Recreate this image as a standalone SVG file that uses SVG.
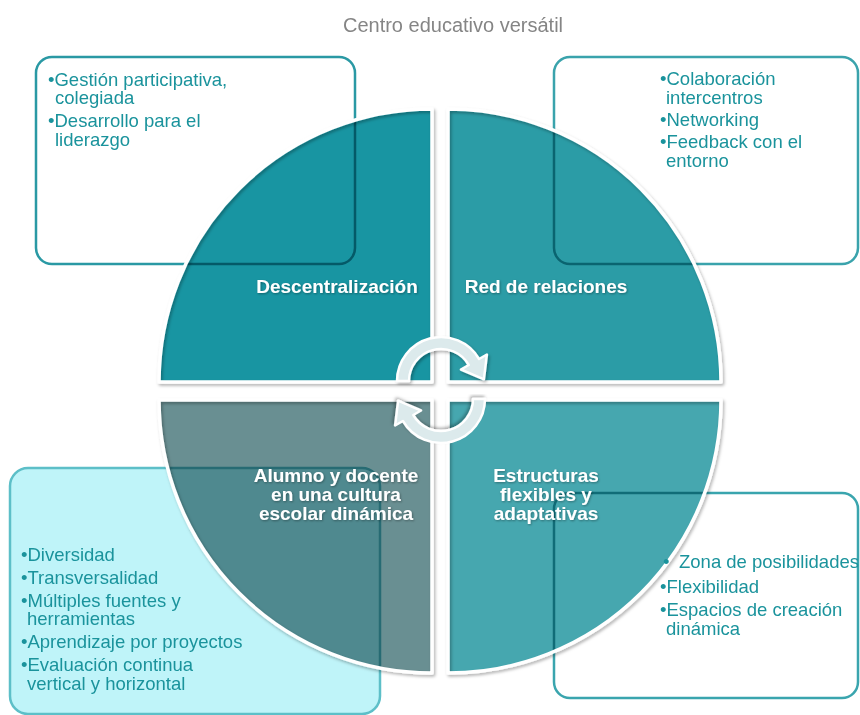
<svg xmlns="http://www.w3.org/2000/svg" width="860" height="715" viewBox="0 0 860 715">
<style>
.bg{fill:#ffffff}
.title{font-family:"Liberation Sans",Arial,sans-serif;font-size:20px;fill:#858585}
.box{stroke-width:2.5}
.btxt{font-family:"Liberation Sans",Arial,sans-serif;font-size:18.5px;fill:#1A939C}
.qfill{mix-blend-mode:multiply}
.qedge{fill:none;stroke:#ffffff;stroke-width:3.5;stroke-linejoin:round}
.qlbl{font-family:"Liberation Sans",Arial,sans-serif;font-size:19px;font-weight:bold;fill:#ffffff;text-anchor:middle}
.arrow{fill:#DCEAEC;stroke:#ffffff;stroke-width:2.5;stroke-linejoin:round}
</style>
<defs>
<filter id="sh" x="-10%" y="-10%" width="120%" height="120%">
<feDropShadow dx="1.5" dy="2" stdDeviation="1.5" flood-color="#000000" flood-opacity="0.3"/>
</filter>
<filter id="tsh" x="-10%" y="-20%" width="120%" height="140%">
<feDropShadow dx="0.8" dy="1" stdDeviation="0.8" flood-color="#000000" flood-opacity="0.35"/>
</filter>
<path id="arrowShape" d="M397,381 A44,44 0 0 1 479.1,359 L486.9,354.5 L483.9,379.3 L460.9,369.5 L468.7,365 A32,32 0 0 0 409,381 Z"/>
</defs>
<rect class="bg" x="0" y="0" width="860" height="715"/>

<g id="title">
<text class="title" x="453" y="32" text-anchor="middle">Centro educativo versátil</text>
</g>

<g id="box-tl">
<rect class="box" x="36" y="57" width="319" height="207" rx="16" fill="#ffffff" stroke="#2A99A4"/>
<text class="btxt"><tspan x="48" y="86">•Gestión participativa,</tspan><tspan x="55" y="104">colegiada</tspan><tspan x="48" y="127">•Desarrollo para el</tspan><tspan x="55" y="146">liderazgo</tspan></text>
</g>

<g id="box-tr">
<rect class="box" x="554" y="57" width="304" height="207" rx="16" fill="#ffffff" stroke="#3AA3AC"/>
<text class="btxt"><tspan x="660" y="85">•Colaboración</tspan><tspan x="666" y="104">intercentros</tspan><tspan x="660" y="126">•Networking</tspan><tspan x="660" y="148">•Feedback con el</tspan><tspan x="666" y="167">entorno</tspan></text>
</g>

<g id="box-bl">
<rect class="box" x="10" y="468" width="370" height="246" rx="18" fill="#BFF4F9" stroke="#5DBFC8"/>
<text class="btxt"><tspan x="21" y="561">•Diversidad</tspan><tspan x="21" y="584">•Transversalidad</tspan><tspan x="21" y="607">•Múltiples fuentes y</tspan><tspan x="27" y="625">herramientas</tspan><tspan x="21" y="648">•Aprendizaje por proyectos</tspan><tspan x="21" y="671">•Evaluación continua</tspan><tspan x="27" y="690">vertical y horizontal</tspan></text>
</g>

<g id="box-br">
<rect class="box" x="554" y="493" width="304" height="205" rx="16" fill="#ffffff" stroke="#3AA5AE"/>
</g>

<g id="q-tl">
<path class="qfill" d="M432,382 H159 A273,273 0 0 1 432,109 Z" fill="#1895A2"/>
<path class="qedge" filter="url(#sh)" d="M432,382 H159 A273,273 0 0 1 432,109 Z"/>
<text class="qlbl" filter="url(#tsh)" x="337" y="293">Descentralización</text>
</g>

<g id="q-tr">
<path class="qfill" d="M448,382 V109 A273,273 0 0 1 721,382 Z" fill="#2B9CA6"/>
<path class="qedge" filter="url(#sh)" d="M448,382 V109 A273,273 0 0 1 721,382 Z"/>
<text class="qlbl" filter="url(#tsh)" x="546" y="293">Red de relaciones</text>
</g>

<g id="q-bl">
<path class="qfill" d="M432,400 V673 A273,273 0 0 1 159,400 Z" fill="#698F92"/>
<path class="qedge" filter="url(#sh)" d="M432,400 V673 A273,273 0 0 1 159,400 Z"/>
<text class="qlbl" filter="url(#tsh)"><tspan x="336" y="482">Alumno y docente</tspan><tspan x="336" y="501">en una cultura</tspan><tspan x="336" y="520">escolar dinámica</tspan></text>
</g>

<g id="q-br">
<path class="qfill" d="M448,400 H721 A273,273 0 0 1 448,673 Z" fill="#46A7AF"/>
<path class="qedge" filter="url(#sh)" d="M448,400 H721 A273,273 0 0 1 448,673 Z"/>
<text class="qlbl" filter="url(#tsh)"><tspan x="546" y="482">Estructuras</tspan><tspan x="546" y="501">flexibles y</tspan><tspan x="546" y="520">adaptativas</tspan></text>
</g>

<g id="box-br-text">
<text class="btxt"><tspan x="663" y="568">•</tspan><tspan x="679" y="568">Zona de posibilidades</tspan><tspan x="660" y="593">•Flexibilidad</tspan><tspan x="660" y="616">•Espacios de creación</tspan><tspan x="666" y="635">dinámica</tspan></text>
</g>

<g id="connectors">
<use href="#arrowShape" class="arrow" filter="url(#sh)"/>
<use href="#arrowShape" class="arrow" filter="url(#sh)" transform="rotate(180 441 390)"/>
</g>
</svg>
